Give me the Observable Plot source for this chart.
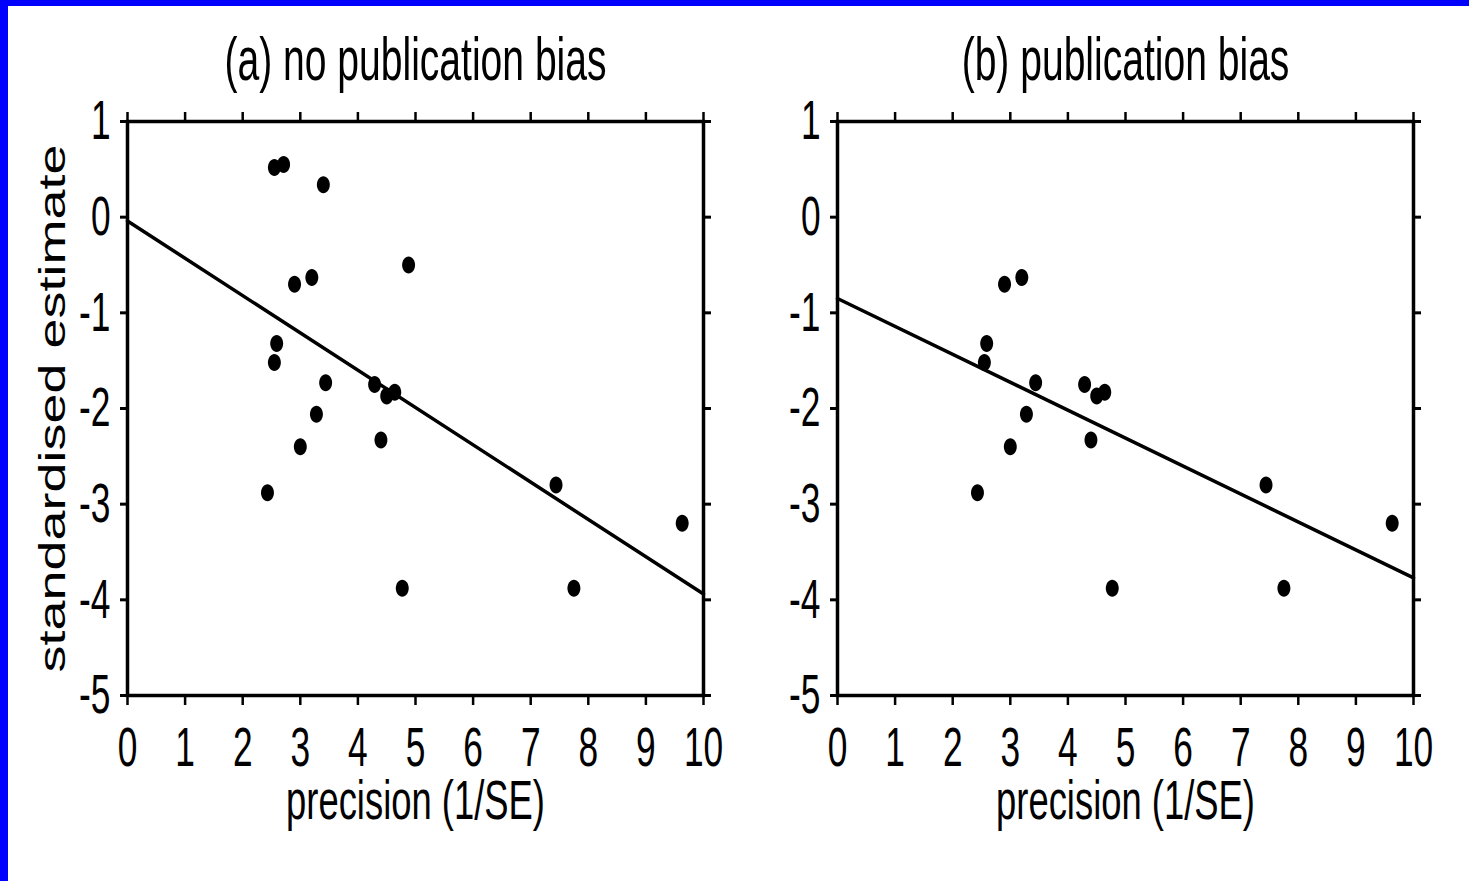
<!DOCTYPE html>
<html><head><meta charset="utf-8">
<script src="https://cdn.jsdelivr.net/npm/d3@7"></script>
<script src="https://cdn.jsdelivr.net/npm/@observablehq/plot@0.6"></script>
<style>
html,body{margin:0;padding:0;background:#fff;}
#wrap{position:relative;width:1469px;height:881px;box-sizing:border-box;border-top:6px solid #0000ff;border-left:8px solid #0000ff;background:#fff;overflow:hidden;}
#wrap svg{position:absolute;top:0;}
</style></head><body><div id="wrap"></div>
<script>
// Panel (a): all studies
const precisionA = [2.55, 2.71, 3.40, 2.90, 3.20, 4.88, 2.59, 2.55, 3.44, 4.29, 4.50, 4.64, 3.28, 4.40, 3.00, 2.43, 7.44, 4.77, 7.75, 9.63];
const estimateA  = [0.52, 0.55, 0.34, -0.70, -0.63, -0.50, -1.32, -1.52, -1.73, -1.75, -1.87, -1.83, -2.06, -2.33, -2.40, -2.88, -2.80, -3.88, -3.88, -3.20];
// Panel (b): published studies only
const precisionB = [2.90, 3.20, 2.59, 2.55, 3.44, 4.29, 4.50, 4.64, 3.28, 4.40, 3.00, 2.43, 7.44, 4.77, 7.75, 9.63];
const estimateB  = [-0.70, -0.63, -1.32, -1.52, -1.73, -1.75, -1.87, -1.83, -2.06, -2.33, -2.40, -2.88, -2.80, -3.88, -3.88, -3.20];
// fitted lines
const fitA = {intercept: -0.04, slope: -0.390};
const fitB = {intercept: -0.85, slope: -0.292};
const xTicks = [0, 1, 2, 3, 4, 5, 6, 7, 8, 9, 10];
const yTicks = [1, 0, -1, -2, -3, -4, -5];
const titles = ["(a) no publication bias", "(b) publication bias"];
const xLabel = "precision (1/SE)";
const yLabel = "standardised estimate";

const ellipse = {draw(ctx, size) {
  const r = Math.sqrt(size / Math.PI), rx = r * 0.76, ry = r, k = 0.5523;
  ctx.moveTo(rx, 0);
  ctx.bezierCurveTo(rx, ry * k, rx * k, ry, 0, ry);
  ctx.bezierCurveTo(-rx * k, ry, -rx, ry * k, -rx, 0);
  ctx.bezierCurveTo(-rx, -ry * k, -rx * k, -ry, 0, -ry);
  ctx.bezierCurveTo(rx * k, -ry, rx, -ry * k, rx, 0);
  ctx.closePath();
}};

function panel(xs, ys, fit, title, showYLabel, o) {
  const pts = xs.map((x, i) => ({p: x, e: ys[i]}));
  const line = d3.extent(xTicks).map(x => ({p: x, e: fit.intercept + fit.slope * x}));
  return Plot.plot({
    width: o.width, height: 875, marginLeft: o.ml, marginRight: o.mr, marginTop: 115, marginBottom: 186,
    x: {domain: [0, 10]}, y: {domain: [-5, 1]},
    style: {fontFamily: "'Liberation Sans', Arial, Helvetica, sans-serif", fontSize: "56px", color: "black", background: "white", overflow: "visible"},
    marks: [
      Plot.axisX({anchor: "bottom", ticks: xTicks, tickSize: 10, tickPadding: 21, tickFormat: d => String(d), fontSize: 56, strokeWidth: 2.5, label: null}),
      Plot.axisX({anchor: "top", ticks: xTicks, tickSize: 10, tickFormat: () => "", strokeWidth: 2.5, label: null}),
      Plot.axisY({anchor: "left", ticks: yTicks, tickSize: 7, tickPadding: 10, tickFormat: d => String(d), fontSize: 56, strokeWidth: 3, label: null}),
      Plot.axisY({anchor: "right", ticks: yTicks, tickSize: 7, tickFormat: () => "", strokeWidth: 3, label: null}),
      Plot.frame({stroke: "black", strokeWidth: 3.5}),
      Plot.line(line, {x: "p", y: "e", stroke: "black", strokeWidth: 3.5}),
      Plot.dot(pts, {x: "p", y: "e", r: 8.5, symbol: ellipse, fill: "black", stroke: "none"}),
      Plot.text([title], {text: d => d, frameAnchor: "top", dy: -61, fontSize: 62, lineAnchor: "middle", textAnchor: "middle"}),
      Plot.text([xLabel], {text: d => d, frameAnchor: "bottom", dy: 106, fontSize: 56, lineAnchor: "middle", textAnchor: "middle"}),
      showYLabel ? Plot.text([yLabel], {text: d => d, frameAnchor: "left", dx: -75, rotate: -90, fontSize: 54, lineAnchor: "middle", textAnchor: "middle"}) : null
    ]
  });
}

const wrap = document.getElementById("wrap");
const a = panel(precisionA, estimateA, fitA, titles[0], true, {width: 726, ml: 119, mr: 31});
const b = panel(precisionB, estimateB, fitB, titles[1], false, {width: 735, ml: 103, mr: 56});
a.style.left = "0px";
b.style.left = "726px";
wrap.appendChild(a);
wrap.appendChild(b);

// condensed look of the original lettering
for (const svg of [a, b]) {
  svg.querySelectorAll("text").forEach(t => {
    const tr = t.getAttribute("transform") || "";
    const txt = t.textContent;
    let sc;
    if (/rotate/.test(tr)) sc = "scale(1,0.7)";
    else if (titles.includes(txt)) sc = "scale(0.63,1)";
    else if (txt === xLabel) sc = "scale(0.65,1)";
    else sc = "scale(0.63,1)";
    t.setAttribute("transform", tr + " " + sc);
  });
}
</script></body></html>
